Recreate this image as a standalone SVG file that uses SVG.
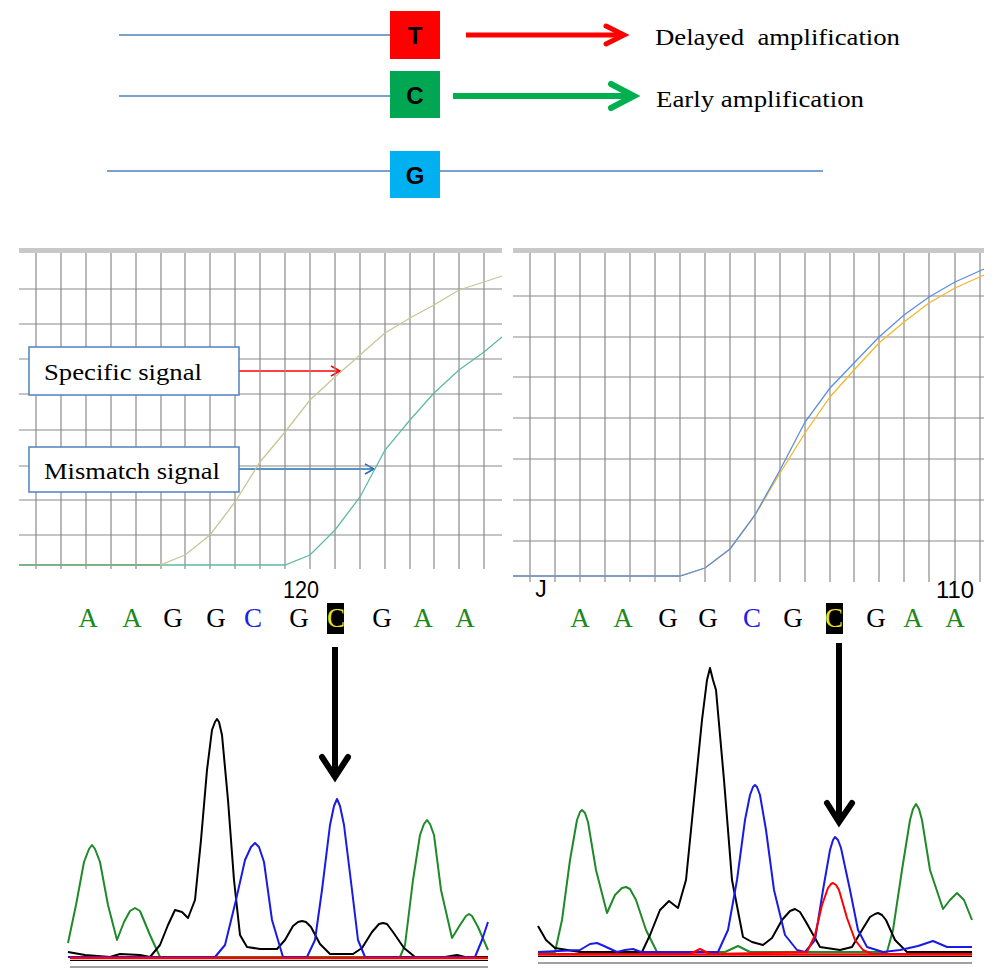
<svg xmlns="http://www.w3.org/2000/svg" width="1000" height="977" viewBox="0 0 1000 977">
<defs>
<style>
.strand{stroke:#4f81bd;stroke-width:1.5;fill:none}
.base{font-family:"Liberation Sans",Arial,sans-serif;font-weight:bold;font-size:24px;text-anchor:middle;fill:#000}
.lbl{font-family:"Liberation Serif","Times New Roman",serif;font-size:24px;fill:#000;white-space:pre}
.grid line{stroke:#8a8a8a;stroke-width:1.2}
.topbar{fill:#c8c8c8}
.seq{font-family:"Liberation Serif","Times New Roman",serif;font-size:27px;text-anchor:middle}
.ax{font-family:"Liberation Sans",Arial,sans-serif;font-size:23px;text-anchor:middle;fill:#000}
.tr{fill:none;stroke-width:2;stroke-linejoin:round}
.box{fill:#fff;stroke:#4f81bd;stroke-width:1.5}
</style>
<marker id="openRed" viewBox="0 0 12 12" refX="10" refY="6" markerWidth="12" markerHeight="12" markerUnits="userSpaceOnUse" orient="auto"><path d="M1,1 L10,6 L1,11" fill="none" stroke="#ff0000" stroke-width="1.5"/></marker>
<marker id="openBlue" viewBox="0 0 12 12" refX="10" refY="6" markerWidth="12" markerHeight="12" markerUnits="userSpaceOnUse" orient="auto"><path d="M1,1 L10,6 L1,11" fill="none" stroke="#1f6fb5" stroke-width="1.5"/></marker>
</defs>
<rect width="1000" height="977" fill="#fff"/>

<!-- top scheme -->
<g id="strands">
<line class="strand" x1="119" y1="35" x2="390" y2="35"/>
<line class="strand" x1="119" y1="96" x2="390" y2="96"/>
<line class="strand" x1="107" y1="171" x2="823" y2="171"/>
</g>
<g id="nodeT"><rect x="390" y="11" width="50" height="48" fill="#ff0000"/><text class="base" x="415" y="44">T</text></g>
<g id="nodeC"><rect x="390" y="71" width="50" height="47" fill="#00a651"/><text class="base" x="415" y="104">C</text></g>
<g id="nodeG"><rect x="390" y="151" width="50" height="47" fill="#00b0f0"/><text class="base" x="415" y="184">G</text></g>
<g id="connectors">
<line x1="466" y1="35" x2="622" y2="35" stroke="#ff0000" stroke-width="5"/>
<polyline points="606,26 624,35 606,44" fill="none" stroke="#ff0000" stroke-width="5" stroke-linecap="round"/>
<line x1="453" y1="96" x2="632" y2="96" stroke="#00b050" stroke-width="6"/>
<polyline points="611,84 634,96 611,108" fill="none" stroke="#00b050" stroke-width="6" stroke-linecap="round"/>
<line x1="239" y1="371" x2="340" y2="371" stroke="#ff0000" stroke-width="1.5" marker-end="url(#openRed)"/>
<line x1="239" y1="469" x2="374" y2="469" stroke="#1f6fb5" stroke-width="1.5" marker-end="url(#openBlue)"/>
<line x1="335" y1="647" x2="335" y2="775" stroke="#000" stroke-width="6"/>
<polyline points="322,757 335,777 348,757" fill="none" stroke="#000" stroke-width="6" stroke-linecap="round"/>
<line x1="839" y1="643" x2="839" y2="820" stroke="#000" stroke-width="6"/>
<polyline points="827,803 839,822 852,803" fill="none" stroke="#000" stroke-width="6" stroke-linecap="round"/>
</g>
<g id="labelDelayed"><text class="lbl" x="655" y="45" xml:space="preserve" textLength="245" lengthAdjust="spacingAndGlyphs">Delayed  amplification</text></g>
<g id="labelEarly"><text class="lbl" x="656" y="107" textLength="208" lengthAdjust="spacingAndGlyphs">Early amplification</text></g>

<!-- left amplification chart -->
<g id="chartLeft">
<rect class="topbar" x="19" y="248" width="483" height="5"/>
<g class="grid">
<line x1="19" y1="289" x2="502" y2="289"/><line x1="19" y1="324" x2="502" y2="324"/><line x1="19" y1="359" x2="502" y2="359"/><line x1="19" y1="394" x2="502" y2="394"/><line x1="19" y1="430" x2="502" y2="430"/><line x1="19" y1="466" x2="502" y2="466"/><line x1="19" y1="500" x2="502" y2="500"/><line x1="19" y1="535" x2="502" y2="535"/>
<line x1="36" y1="253" x2="36" y2="569"/><line x1="61" y1="253" x2="61" y2="569"/><line x1="86" y1="253" x2="86" y2="569"/><line x1="111" y1="253" x2="111" y2="569"/><line x1="136" y1="253" x2="136" y2="569"/><line x1="161" y1="253" x2="161" y2="569"/><line x1="185" y1="253" x2="185" y2="569"/><line x1="210" y1="253" x2="210" y2="569"/><line x1="235" y1="253" x2="235" y2="569"/><line x1="260" y1="253" x2="260" y2="569"/><line x1="285" y1="253" x2="285" y2="569"/><line x1="310" y1="253" x2="310" y2="569"/><line x1="335" y1="253" x2="335" y2="569"/><line x1="360" y1="253" x2="360" y2="569"/><line x1="385" y1="253" x2="385" y2="569"/><line x1="410" y1="253" x2="410" y2="569"/><line x1="434" y1="253" x2="434" y2="569"/><line x1="459" y1="253" x2="459" y2="569"/><line x1="484" y1="253" x2="484" y2="569"/>
</g>
<polyline fill="none" stroke="#5fb8a8" stroke-width="1.3" points="19,565 285,565 310,555 335,530 360,497 385,450 410,420 434,393 459,370 484,352 502,337"/>
<polyline fill="none" stroke="#c9c597" stroke-width="1.3" points="19,565 160,565 185,555 210,535 235,502 260,462 285,432 310,400 335,377 360,355 385,333 410,318 434,305 459,290 484,282 502,276"/>
<line x1="19" y1="565" x2="160" y2="565" stroke="#6aaa80" stroke-width="1.3"/>
<text class="ax" x="301" y="598" textLength="36" lengthAdjust="spacingAndGlyphs">120</text>
</g>
<g id="boxSpecific"><rect class="box" x="29" y="347" width="210" height="48"/><text class="lbl" x="44" y="380" textLength="158" lengthAdjust="spacingAndGlyphs">Specific signal</text></g>
<g id="boxMismatch"><rect class="box" x="29" y="447" width="210" height="45"/><text class="lbl" x="44" y="479" textLength="176" lengthAdjust="spacingAndGlyphs">Mismatch signal</text></g>

<!-- right amplification chart -->
<g id="chartRight">
<rect class="topbar" x="513" y="248" width="471" height="5"/>
<g class="grid">
<line x1="513" y1="296" x2="984" y2="296"/><line x1="513" y1="337" x2="984" y2="337"/><line x1="513" y1="377" x2="984" y2="377"/><line x1="513" y1="418" x2="984" y2="418"/><line x1="513" y1="459" x2="984" y2="459"/><line x1="513" y1="500" x2="984" y2="500"/><line x1="513" y1="541" x2="984" y2="541"/>
<line x1="530" y1="253" x2="530" y2="582"/><line x1="555" y1="253" x2="555" y2="582"/><line x1="580" y1="253" x2="580" y2="582"/><line x1="605" y1="253" x2="605" y2="582"/><line x1="630" y1="253" x2="630" y2="582"/><line x1="655" y1="253" x2="655" y2="582"/><line x1="680" y1="253" x2="680" y2="582"/><line x1="705" y1="253" x2="705" y2="582"/><line x1="730" y1="253" x2="730" y2="582"/><line x1="755" y1="253" x2="755" y2="582"/><line x1="780" y1="253" x2="780" y2="582"/><line x1="805" y1="253" x2="805" y2="582"/><line x1="830" y1="253" x2="830" y2="582"/><line x1="854" y1="253" x2="854" y2="582"/><line x1="879" y1="253" x2="879" y2="582"/><line x1="904" y1="253" x2="904" y2="582"/><line x1="929" y1="253" x2="929" y2="582"/><line x1="955" y1="253" x2="955" y2="582"/><line x1="980" y1="253" x2="980" y2="582"/>
</g>
<polyline fill="none" stroke="#f2b632" stroke-width="1.3" points="513,576 680,576 705,568 730,549 755,515 780,473 805,433 830,397 854,370 879,343 904,322 929,303 955,288 984,275"/>
<polyline fill="none" stroke="#5b8fe0" stroke-width="1.3" points="513,576 680,576 705,568 730,549 755,515 780,470 805,422 830,388 854,363 879,337 904,315 929,297 955,282 984,269"/>
<text class="ax" x="541" y="597">J</text>
<text class="ax" x="955" y="598" textLength="38" lengthAdjust="spacingAndGlyphs">110</text>
</g>

<!-- sequences -->
<g id="seqLeft">
<rect x="327" y="603" width="17" height="31" fill="#000"/>
<text class="seq" x="88" y="627" fill="#1a8a1a">A</text>
<text class="seq" x="132" y="627" fill="#1a8a1a">A</text>
<text class="seq" x="173" y="627" fill="#000">G</text>
<text class="seq" x="216" y="627" fill="#000">G</text>
<text class="seq" x="253" y="627" fill="#2020e8">C</text>
<text class="seq" x="299" y="627" fill="#000">G</text>
<text class="seq" x="336" y="627" fill="#f0e020">C</text>
<text class="seq" x="382" y="627" fill="#000">G</text>
<text class="seq" x="423" y="627" fill="#1a8a1a">A</text>
<text class="seq" x="465" y="627" fill="#1a8a1a">A</text>
</g>
<g id="seqRight">
<rect x="826" y="603" width="17" height="31" fill="#000"/>
<text class="seq" x="580" y="627" fill="#1a8a1a">A</text>
<text class="seq" x="623" y="627" fill="#1a8a1a">A</text>
<text class="seq" x="668" y="627" fill="#000">G</text>
<text class="seq" x="708" y="627" fill="#000">G</text>
<text class="seq" x="752" y="627" fill="#2020e8">C</text>
<text class="seq" x="793" y="627" fill="#000">G</text>
<text class="seq" x="834" y="627" fill="#f0e020">C</text>
<text class="seq" x="876" y="627" fill="#000">G</text>
<text class="seq" x="913" y="627" fill="#1a8a1a">A</text>
<text class="seq" x="955" y="627" fill="#1a8a1a">A</text>
</g>

<!-- left chromatogram -->
<g id="chromLeft">
<line x1="70" y1="967" x2="488" y2="967" stroke="#a0a0a0" stroke-width="2"/>
<polyline class="tr" stroke="#1f8a2a" points="68,943 76,905 84,862 89,849 92,845 95,849 100,862 108,905 117,940 124,922 130,911 135,908 140,911 150,935 160,957 400,957 405,945 413,880 420,835 424,824 427,820 430,824 434,835 441,890 452,938 460,925 466,916 469,914 472,916 478,927 488,950"/>
<polyline class="tr" stroke="#000" points="68,952 85,955 110,957 120,954 140,955 150,957 160,945 168,925 175,910 182,912 188,918 195,900 201,840 207,770 212,730 215,722 217,719 219,722 222,735 228,800 234,880 240,935 247,947 260,949 277,949 285,940 293,926 298,922 302,921 306,922 311,927 320,944 330,954 353,954 362,948 372,932 379,924 383,923 387,924 393,932 404,948 415,957 445,957 457,955 465,957 488,957"/>
<polyline class="tr" stroke="#1a1ae6" points="68,957 215,957 225,945 236,900 245,860 251,847 255,843 259,847 264,862 272,920 283,957 307,957 315,940 322,890 330,825 334,806 337,799 340,806 344,825 352,890 358,940 365,957 475,957 482,940 488,922"/>
<line x1="70" y1="958" x2="488" y2="958" stroke="#ff0000" stroke-width="2.5"/>
<line x1="70" y1="960.5" x2="488" y2="960.5" stroke="#000" stroke-width="1"/>
</g>

<!-- right chromatogram -->
<g id="chromRight">
<line x1="538" y1="963" x2="972" y2="963" stroke="#a0a0a0" stroke-width="2"/>
<polyline class="tr" stroke="#1f8a2a" points="540,952 555,952 562,920 570,860 577,820 580,812 582,810 585,813 588,822 596,870 607,913 615,895 622,888 626,887 630,889 636,900 646,930 657,952 725,952 738,946 750,952 887,952 893,930 902,870 910,820 913,809 916,804 919,809 922,820 930,870 943,909 950,900 957,893 964,900 972,920"/>
<polyline class="tr" stroke="#000" points="538,926 546,940 555,948 580,952 642,952 650,935 660,910 669,901 678,908 686,880 694,800 702,720 707,680 710,668 713,680 716,690 724,780 732,880 743,937 752,942 763,945 772,938 782,920 790,911 795,909 800,912 806,922 820,947 840,950 852,947 862,930 870,917 875,914 878,913 882,915 886,920 895,940 907,952 972,952"/>
<polyline class="tr" stroke="#1a1ae6" points="538,952 580,950 590,944 597,943 604,946 617,952 625,950 633,949 641,952 718,952 728,930 737,880 745,820 750,795 753,787 755,785 757,787 760,795 766,830 774,890 785,935 797,950 805,952 815,940 823,890 830,850 833,840 835,837 838,840 841,848 850,890 858,930 867,947 883,952 900,950 918,946 933,941 947,947 972,947"/>
<polyline class="tr" stroke="#ff0000" points="538,954 690,954 700,949 710,954 807,952 815,935 822,905 828,888 831,884 833,883 836,885 839,890 847,918 855,940 863,950 872,954 972,954"/>
<line x1="538" y1="954.5" x2="972" y2="954.5" stroke="#ff0000" stroke-width="2.5"/>
<line x1="538" y1="956.5" x2="972" y2="956.5" stroke="#000" stroke-width="1"/>
</g>
</svg>
